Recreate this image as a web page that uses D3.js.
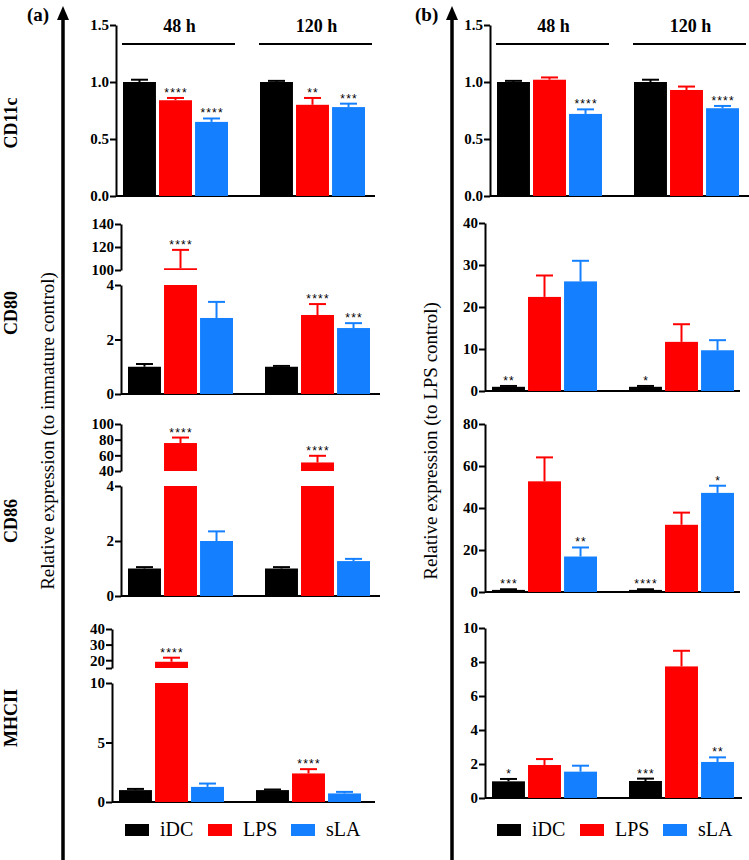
<!DOCTYPE html>
<html>
<head>
<meta charset="utf-8">
<script src="https://cdn.jsdelivr.net/npm/d3@7"></script>
<style>
body { margin: 0; background: #fff; }
svg text { font-family: "Liberation Serif", "Times New Roman", serif; fill: #000; }
</style>
</head>
<body>
<div id="chart"></div>
<script>
// ---- data ----
const groups = ['48 h', '120 h'];
const series = ['iDC', 'LPS', 'sLA'];
const seriesColors = ['#000000', '#ff0000', '#1580ff'];

// (a) relative to immature control
const cd11cA_mean = [[1.00, 0.84, 0.65], [1.00, 0.80, 0.78]];
const cd11cA_err  = [[0.02, 0.02, 0.03], [0.01, 0.06, 0.03]];
const cd11cA_sig  = [['', '****', '****'], ['', '**', '***']];

const cd80A_mean = [[1.00, 101.5, 2.79], [1.00, 2.90, 2.42]];
const cd80A_err  = [[0.10, 16.0, 0.59], [0.03, 0.40, 0.18]];
const cd80A_sig  = [['', '****', ''], ['', '****', '***']];

const cd86A_mean = [[1.00, 75.7, 2.00], [1.00, 50.9, 1.27]];
const cd86A_err  = [[0.05, 7.0, 0.35], [0.05, 8.5, 0.08]];
const cd86A_sig  = [['', '****', ''], ['', '****', '']];

const mhcA_mean = [[1.00, 19.0, 1.27], [1.00, 2.40, 0.72]];
const mhcA_err  = [[0.10, 2.6, 0.28], [0.05, 0.36, 0.13]];
const mhcA_sig  = [['', '****', ''], ['', '****', '']];

// (b) relative to LPS control
const cd11cB_mean = [[1.00, 1.02, 0.72], [1.00, 0.93, 0.77]];
const cd11cB_err  = [[0.01, 0.02, 0.04], [0.02, 0.03, 0.02]];
const cd11cB_sig  = [['', '', '****'], ['', '', '****']];

const cd80B_mean = [[1.00, 22.4, 26.1], [1.00, 11.7, 9.7]];
const cd80B_err  = [[0.20, 5.1, 4.9], [0.20, 4.2, 2.4]];
const cd80B_sig  = [['**', '', ''], ['*', '', '']];

const cd86B_mean = [[1.00, 52.7, 16.9], [1.00, 32.0, 47.2]];
const cd86B_err  = [[0.30, 11.4, 4.3], [0.30, 5.8, 3.4]];
const cd86B_sig  = [['***', '', '**'], ['****', '', '*']];

const mhcB_mean = [[0.98, 1.94, 1.55], [1.00, 7.74, 2.12]];
const mhcB_err  = [[0.14, 0.35, 0.35], [0.14, 0.92, 0.27]];
const mhcB_sig  = [['*', '', ''], ['***', '', '**']];

const rowLabels = ['CD11c', 'CD80', 'CD86', 'MHCII'];
const colLabels = ['(a)', '(b)'];
const yTitles = ['Relative expression (to immature control)', 'Relative expression (to LPS control)'];

// ---- layout ----
const f1 = d3.format('.1f');
const fd = d3.format('d');

const panels = [
  {row: 0, col: 0, axisX: 116, right: 375, mean: cd11cA_mean, err: cd11cA_err, sig: cd11cA_sig,
   segs: [{domain: [0, 1.5], range: [196, 25], ticks: [0, 0.5, 1.0, 1.5], fmt: f1}]},
  {row: 1, col: 0, axisX: 121, right: 380, mean: cd80A_mean, err: cd80A_err, sig: cd80A_sig,
   segs: [{domain: [0, 4], range: [394, 285], ticks: [0, 2, 4], fmt: fd},
          {domain: [100, 140], range: [270, 224], ticks: [100, 120, 140], fmt: fd}]},
  {row: 2, col: 0, axisX: 121, right: 380, mean: cd86A_mean, err: cd86A_err, sig: cd86A_sig,
   segs: [{domain: [0, 4], range: [596, 486], ticks: [0, 2, 4], fmt: fd},
          {domain: [40, 100], range: [471, 424], ticks: [40, 60, 80, 100], fmt: fd}]},
  {row: 3, col: 0, axisX: 112, right: 375, mean: mhcA_mean, err: mhcA_err, sig: mhcA_sig,
   segs: [{domain: [0, 10], range: [802, 683], ticks: [0, 5, 10], fmt: fd},
          {domain: [15, 40], range: [668, 629], ticks: [15, 20, 30, 40], fmt: d => d === 15 ? '' : fd(d)}]},
  {row: 0, col: 1, axisX: 490, right: 749, mean: cd11cB_mean, err: cd11cB_err, sig: cd11cB_sig,
   segs: [{domain: [0, 1.5], range: [196, 25], ticks: [0, 0.5, 1.0, 1.5], fmt: f1}]},
  {row: 1, col: 1, axisX: 485, right: 740, mean: cd80B_mean, err: cd80B_err, sig: cd80B_sig,
   segs: [{domain: [0, 40], range: [391, 223], ticks: [0, 10, 20, 30, 40], fmt: fd}]},
  {row: 2, col: 1, axisX: 485, right: 740, mean: cd86B_mean, err: cd86B_err, sig: cd86B_sig,
   segs: [{domain: [0, 80], range: [592, 424], ticks: [0, 20, 40, 60, 80], fmt: fd}]},
  {row: 3, col: 1, axisX: 485, right: 742, mean: mhcB_mean, err: mhcB_err, sig: mhcB_sig,
   segs: [{domain: [0, 10], range: [798, 628], ticks: [0, 2, 4, 6, 8, 10], fmt: fd}]}
];

const arrowX = [63, 452];
const rowLabelY = [123, 313, 521, 718];
const yTitleX = [54, 437];
const yTitleY = [431, 441];
const legendX = [125, 497];

const svg = d3.select('#chart').append('svg')
    .attr('width', 749)
    .attr('height', 860);

const makeX = function(p) {
    const x0 = d3.scaleBand()
        .domain(groups)
        .range([p.axisX + 7, p.axisX + 7 + 242])
        .paddingInner(32 / 137)
        .paddingOuter(0);
    const x1 = d3.scaleBand()
        .domain(series)
        .range([0, x0.bandwidth()])
        .paddingInner(0.085);
    return [x0, x1];
};

// ---- panels ----
panels.forEach(function(p) {
    const g = svg.append('g');
    const [x0, x1] = makeX(p);
    const segs = p.segs.map(s => Object.assign({}, s, {y: d3.scaleLinear().domain(s.domain).range(s.range)}));

    segs.forEach(function(s) {
        const axis = d3.axisLeft(s.y)
            .tickValues(s.ticks)
            .tickFormat(s.fmt)
            .tickSize(6)
            .tickSizeOuter(0)
            .tickPadding(1);
        const ag = g.append('g')
            .attr('transform', `translate(${p.axisX}, 0)`)
            .call(axis);
        ag.style('font-family', '"Liberation Serif", "Times New Roman", serif');
        ag.select('.domain').attr('stroke-width', 2);
        ag.selectAll('.tick line').attr('stroke-width', 2);
        ag.selectAll('.tick text')
            .attr('font-size', 15)
            .attr('font-weight', 'bold')
            .attr('fill', '#000');
    });

    const base = segs[0].y(0);
    g.append('line')
        .attr('x1', p.axisX).attr('x2', p.right)
        .attr('y1', base).attr('y2', base)
        .attr('stroke', '#000').attr('stroke-width', 2);

    const bars = groups.flatMap((grp, gi) => series.map((ser, si) => ({
        grp: grp, ser: ser, si: si,
        v: p.mean[gi][si], e: p.err[gi][si], sig: p.sig[gi][si]
    })));

    // bar pieces, one per axis segment
    segs.forEach(function(s) {
        g.selectAll(null)
            .data(bars.filter(d => d.v > s.domain[0]))
            .join('rect')
            .attr('x', d => x0(d.grp) + x1(d.ser))
            .attr('width', x1.bandwidth())
            .attr('y', d => s.y(Math.min(d.v, s.domain[1])))
            .attr('height', d => s.y(s.domain[0]) - s.y(Math.min(d.v, s.domain[1])))
            .attr('fill', d => seriesColors[d.si]);
    });

    const segOf = d => segs.filter(s => d.v > s.domain[0]).pop() || segs[0];
    const cx = d => x0(d.grp) + x1(d.ser) + x1.bandwidth() / 2;

    // error bars (upper only)
    g.selectAll(null).data(bars).join('line')
        .attr('x1', cx).attr('x2', cx)
        .attr('y1', d => segOf(d).y(d.v))
        .attr('y2', d => segOf(d).y(d.v + d.e))
        .attr('stroke', d => seriesColors[d.si]).attr('stroke-width', 2);
    g.selectAll(null).data(bars).join('line')
        .attr('x1', d => cx(d) - 8.5).attr('x2', d => cx(d) + 8.5)
        .attr('y1', d => segOf(d).y(d.v + d.e))
        .attr('y2', d => segOf(d).y(d.v + d.e))
        .attr('stroke', d => seriesColors[d.si]).attr('stroke-width', 2);

    // significance stars
    g.selectAll(null).data(bars.filter(d => d.sig)).join('text')
        .attr('x', d => cx(d) + 0.6)
        .attr('y', d => segOf(d).y(d.v + d.e) - 1)
        .attr('text-anchor', 'middle')
        .attr('font-size', 12)
        .attr('letter-spacing', 1.2)
        .style('font-family', '"Liberation Sans", Arial, sans-serif')
        .text(d => d.sig);

    // group headers on the top row
    if (p.row === 0) {
        groups.forEach(function(grp) {
            const xs = x0(grp) - 1, xe = x0(grp) + x0.bandwidth() + 7;
            g.append('line')
                .attr('x1', xs).attr('x2', xe).attr('y1', 44).attr('y2', 44)
                .attr('stroke', '#000').attr('stroke-width', 2);
            g.append('text')
                .attr('x', (xs + xe) / 2 + 1).attr('y', 32)
                .attr('text-anchor', 'middle')
                .attr('font-size', 18).attr('font-weight', 'bold')
                .text(grp);
        });
    }

    // row labels on the left column
    if (p.col === 0) {
        svg.append('text')
            .attr('transform', `translate(17, ${rowLabelY[p.row]}) rotate(-90)`)
            .attr('text-anchor', 'middle')
            .attr('font-size', 18).attr('font-weight', 'bold')
            .text(rowLabels[p.row]);
    }
});

// ---- column decoration: arrows, letters, titles, legends ----
[0, 1].forEach(function(c) {
    const ax = arrowX[c];
    svg.append('line')
        .attr('x1', ax).attr('x2', ax).attr('y1', 16).attr('y2', 860)
        .attr('stroke', '#000').attr('stroke-width', 3.5);
    svg.append('path')
        .attr('d', `M${ax},6 L${ax - 6},20 L${ax + 6},20 Z`)
        .attr('fill', '#000');

    svg.append('text')
        .attr('x', c === 0 ? 27 : 415).attr('y', 21)
        .attr('font-size', 19).attr('font-weight', 'bold')
        .text(colLabels[c]);

    svg.append('text')
        .attr('transform', `translate(${yTitleX[c]}, ${yTitleY[c]}) rotate(-90)`)
        .attr('text-anchor', 'middle')
        .attr('font-size', 19)
        .text(yTitles[c]);

    const lg = svg.append('g').attr('transform', `translate(${legendX[c]}, 0)`);
    lg.selectAll('rect').data(series).join('rect')
        .attr('x', (d, i) => i * 83).attr('y', 824)
        .attr('width', 24).attr('height', 12)
        .attr('fill', (d, i) => seriesColors[i]);
    lg.selectAll('text').data(series).join('text')
        .attr('x', (d, i) => i * 83 + 35).attr('y', 836)
        .attr('font-size', 20)
        .text(d => d);
});
</script>
</body>
</html>
